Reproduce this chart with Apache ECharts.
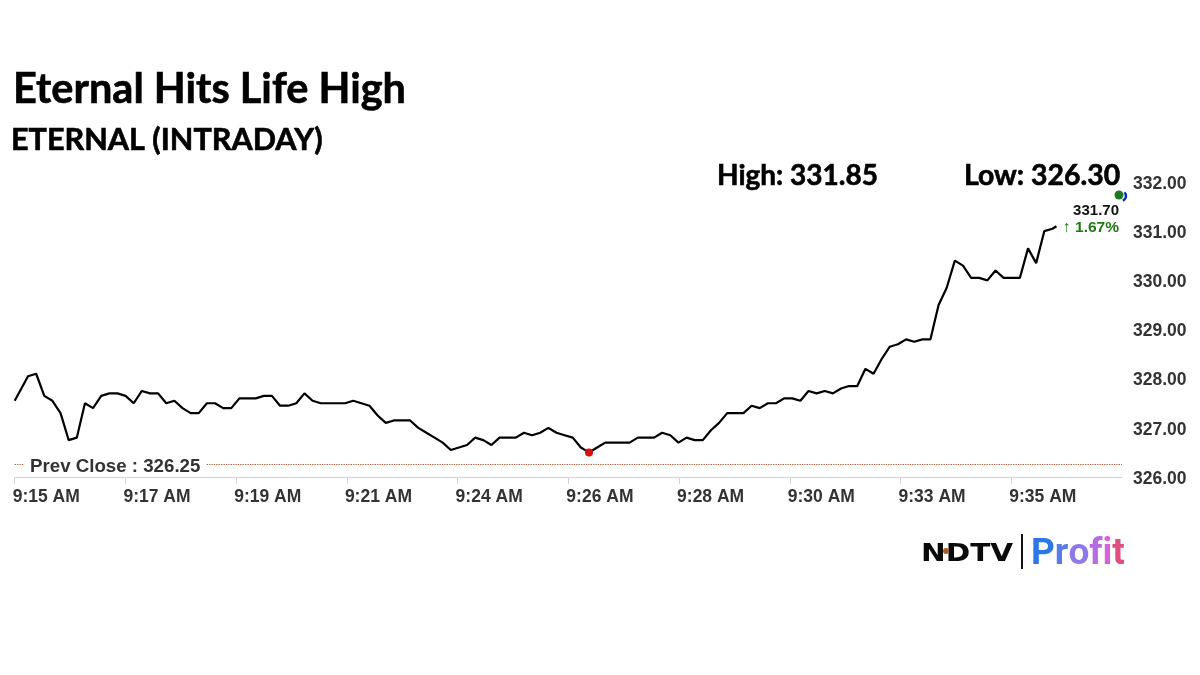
<!DOCTYPE html>
<html>
<head>
<meta charset="utf-8">
<script src="https://cdn.jsdelivr.net/npm/echarts@6/dist/echarts.min.js"></script>
<style>
  html, body { margin: 0; padding: 0; background: #fff; }
  #chart { width: 1200px; height: 675px; }
</style>
</head>
<body>
<div id="chart"></div>
<script>
const tickLabels = ["9:15 AM", "9:17 AM", "9:19 AM", "9:21 AM", "9:24 AM", "9:26 AM", "9:28 AM", "9:30 AM", "9:33 AM", "9:35 AM"];
const priceTicks = [326, 327, 328, 329, 330, 331, 332];
const prevClose = 326.25;

const prices = [
  327.55,
  328.05, 328.1, 327.65, 327.55, 327.3, 326.75, 326.8, 327.5, 327.4, 327.65,
  327.7, 327.7, 327.65, 327.5, 327.75, 327.7, 327.7, 327.5, 327.55, 327.4,
  327.3, 327.3, 327.5, 327.5, 327.4, 327.4, 327.6, 327.6, 327.6, 327.65,
  327.65, 327.45, 327.45, 327.5, 327.7, 327.55, 327.5, 327.5, 327.5, 327.5,
  327.55, 327.5, 327.45, 327.25, 327.1, 327.15, 327.15,
  327.15, 327.0, 326.9, 326.8, 326.7, 326.55, 326.6, 326.65, 326.8, 326.75,
  326.65, 326.8, 326.8, 326.8, 326.9, 326.85, 326.9, 327.0, 326.9, 326.85, 326.8, 326.6, 326.5,
  326.6, 326.7, 326.7, 326.7, 326.7, 326.8, 326.8, 326.8, 326.9, 326.85,
  326.7, 326.8, 326.75, 326.75, 326.95, 327.1, 327.3, 327.3, 327.3, 327.45,
  327.4, 327.5, 327.5, 327.6, 327.6, 327.55,
  327.75, 327.7, 327.75, 327.7, 327.8, 327.85, 327.85, 328.2, 328.1, 328.4,
  328.65, 328.7, 328.8, 328.75, 328.8, 328.8, 329.5, 329.85, 330.4, 330.3,
  330.05, 330.05, 330.0, 330.2, 330.05, 330.05, 330.05, 330.65, 330.35, 331.0,
  331.05, 331.1
];

// the feed is not evenly spaced at either end: first gap is longer, last tick is partial
const firstGap = 1.64;
const lastGap = 0.5;
const samplesPerTick = 13.62;
const axisSamples = samplesPerTick * tickLabels.length;

const slots = prices.map((_, i) => {
  if (i === 0) return 0;
  if (i === prices.length - 1) return firstGap + i - 2 + lastGap;
  return firstGap + i - 1;
});

const font = "'Liberation Sans', Arial, sans-serif";
const titleFont = "Lato, 'Open Sans', sans-serif";

const chart = echarts.init(document.getElementById("chart"));

// one colour per letter, graphic text does not keep a gradient fill
const profitLetter = (fill) => ({ fill, fontFamily: "Roboto", fontWeight: "bold", fontSize: 37 });

// Lato bold is a little lighter than the original heading face
const headingStyle = (fontSize) => ({
  fontFamily: titleFont, fontWeight: 700, fontSize, color: "#000",
  textBorderColor: "#000", textBorderWidth: 0.6
});

chart.setOption({
  animation: false,
  backgroundColor: "#fff",
  title: [
    { text: "Eternal Hits Life High", left: 8, top: 64, textStyle: headingStyle(41.5) },
    { text: "ETERNAL (INTRADAY)", left: 6, top: 120, textStyle: headingStyle(30.6) },
    { text: "High: 331.85", left: 712, top: 157, textStyle: headingStyle(28) },
    { text: "Low: 326.30", left: 959, top: 157, textStyle: headingStyle(28.4) }
  ],
  grid: { left: 14.7, right: 78, top: 182, bottom: 198 },
  xAxis: {
    type: "value",
    min: 0,
    max: axisSamples,
    interval: samplesPerTick,
    splitLine: { show: false },
    axisLine: { show: true, lineStyle: { color: "#d4d4d4", width: 1 } },
    axisTick: { show: true, length: 7, lineStyle: { color: "#d4d4d4" } },
    axisLabel: {
      color: "#333",
      fontFamily: font,
      fontWeight: "bold",
      fontSize: 17.5,
      align: "left",
      margin: 11,
      padding: [0, 0, 0, -2],
      showMaxLabel: false,
      formatter: (v) => tickLabels[Math.round(v / samplesPerTick)] || ""
    }
  },
  yAxis: {
    type: "value",
    position: "right",
    min: priceTicks[0],
    max: priceTicks[priceTicks.length - 1],
    interval: 1,
    splitLine: { show: false },
    axisLine: { show: false },
    axisTick: { show: false },
    axisLabel: {
      color: "#333",
      fontFamily: font,
      fontWeight: "bold",
      fontSize: 17.5,
      margin: 11,
      verticalAlign: "top",
      padding: [-7, 0, 0, 0],
      formatter: (v) => v.toFixed(2)
    }
  },
  series: [
    {
      type: "line",
      data: prices.map((p, i) => [slots[i], p]),
      showSymbol: false,
      smooth: false,
      lineStyle: { color: "#000", width: 2.2 },
      markPoint: {
        symbol: "circle",
        symbolSize: 8,
        itemStyle: { color: "#d6120c" },
        label: { show: false },
        data: [{ type: "min" }]
      },
      markLine: {
        silent: true,
        symbol: "none",
        label: { show: false },
        lineStyle: { color: "#b0502a", type: "dotted", width: 1.2 },
        data: [{ yAxis: prevClose }]
      }
    }
  ],
  graphic: [
    // prev close tag sits on top of the dotted line
    {
      type: "text", z: 100, left: 24, top: 456,
      style: { text: "Prev Close : 326.25", fontFamily: font, fontWeight: "bold", fontSize: 18.7, fill: "#333", backgroundColor: "#fff", padding: [1, 6, 1, 6] }
    },
    // last price tag
    { type: "text", z: 100, right: 81, top: 203, style: { text: "331.70", fontFamily: font, fontWeight: "bold", fontSize: 15, fill: "#111" } },
    { type: "text", z: 100, right: 81, top: 220, style: { text: "↑ 1.67%", fontFamily: font, fontWeight: "bold", fontSize: 15.5, fill: "#1f7a12" } },
    // live dot
    { type: "arc", z: 100, shape: { cx: 1121, cy: 196, r: 5, startAngle: -0.8, endAngle: 1.2 }, style: { fill: "none", stroke: "#0a2fb5", lineWidth: 2.5 } },
    { type: "circle", z: 101, shape: { cx: 1119, cy: 195, r: 4.5 }, style: { fill: "#1f7a1f" } },
    // logo
    { type: "text", z: 100, left: 921, top: 542, scaleX: 1.18, style: { text: "NDTV", fontFamily: "'DejaVu Sans'", fontWeight: "bold", fontSize: 25, fill: "#0a0a0a" } },
    { type: "circle", z: 101, shape: { cx: 946, cy: 551, r: 3 }, style: { fill: "#a8602a" } },
    { type: "rect", z: 100, shape: { x: 1021, y: 534, width: 2, height: 35 }, style: { fill: "#111" } },
    {
      type: "text", z: 100, left: 1031, top: 536,
      style: {
        text: "{a|P}{b|r}{c|o}{d|f}{e|i}{f|t}",
        rich: {
          a: profitLetter("#2a78e6"),
          b: profitLetter("#5a7ce8"),
          c: profitLetter("#8f78e8"),
          d: profitLetter("#b86ce4"),
          e: profitLetter("#d860dc"),
          f: profitLetter("#e0507f")
        }
      }
    }
  ]
});

window.addEventListener("resize", chart.resize);
</script>
</body>
</html>
